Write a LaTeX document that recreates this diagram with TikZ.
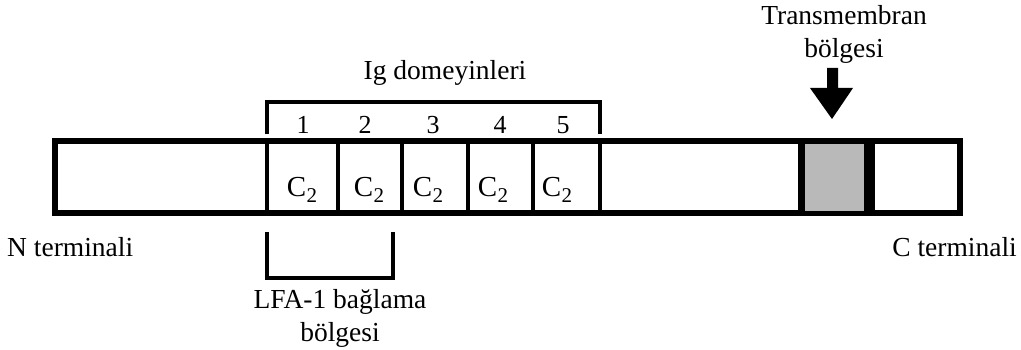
\documentclass[tikz,border=0pt]{standalone}
\usepackage{fontspec}
\setmainfont{Liberation Serif}
\newcommand\Ctwo{C\kern0.5pt\raisebox{-0.5ex}{\fontsize{21}{21}\selectfont 2}}
\begin{document}
\begin{tikzpicture}[x=1pt,y=-1pt,
  lbl/.style={inner sep=0pt,font=\fontsize{27.5}{33}\selectfont},
  numlbl/.style={inner sep=0pt,font=\fontsize{26}{30}\selectfont},
  clbl/.style={inner sep=0pt,font=\fontsize{29}{33}\selectfont},
  thickline/.style={line width=4pt},
  divider/.style={line width=3.5pt}]
\useasboundingbox (0,0) rectangle (1021,350);
% main bar
\node[draw,line width=6pt,minimum width=905pt,minimum height=72pt,inner sep=0pt] (bar) at (507.5,177) {};
% dividers
\foreach \x in {267,338,402,468,533,600}{\draw[divider] (\x,141) -- (\x,213);}
% transmembrane region
\fill[black] (798,141) rectangle (875,213);
\fill[gray!55] (805,144) rectangle (864,211);
% C2 labels
\foreach \x/\n in {302/c1,369/c2,428/c3,493/c4,557/c5}{\node[clbl] (\n) at (\x,190) {\Ctwo};}
% numbers
\foreach \x/\n in {303/1,365/2,433/3,500/4,563/5}{\node[numlbl] (num\n) at (\x,125) {\n};}
% Ig bracket
\draw[thickline] (267,134) -- (267,102) -- (600,102) -- (600,134);
\node[lbl] (ig) at (445,73) {Ig domeyinleri};
% LFA bracket
\draw[thickline] (267,232) -- (267,278) -- (393,278) -- (393,232);
\node[lbl,align=center] (lfa) at (340,318) {LFA-1 bağlama\\bölgesi};
% terminals
\node[lbl,anchor=west] (nterm) at (7,247) {N terminali};
\node[lbl,anchor=east] (cterm) at (1017,247) {C terminali};
% transmembrane label and arrow
\node[lbl,align=center] (tm) at (844,34) {Transmembran\\bölgesi};
\fill[black] (827,68) -- (838,68) -- (838,88) -- (853,88) -- (832,119) -- (810,88) -- (827,88) -- cycle;
\end{tikzpicture}
\end{document}
